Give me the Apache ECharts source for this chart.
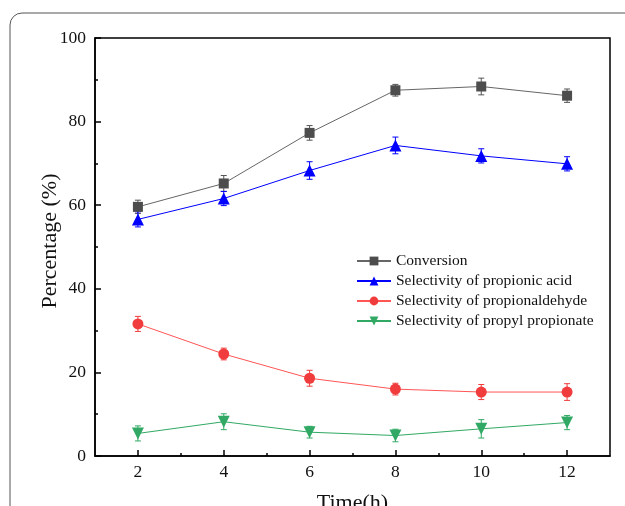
<!DOCTYPE html>
<html><head><meta charset="utf-8">
<script src="https://cdn.jsdelivr.net/npm/echarts@6/dist/echarts.min.js"></script>
<style>html,body{margin:0;padding:0;background:#fff}#c{width:625px;height:506px}</style>
</head><body><div id="c"></div>
<script>
const time = [2, 4, 6, 8, 10, 12];
const conversion = [59.6, 65.2, 77.3, 87.5, 88.4, 86.2];
const conversionErr = [1.6, 1.9, 1.75, 1.4, 2.0, 1.6];
const propionicAcid = [56.6, 61.6, 68.3, 74.3, 71.8, 69.9];
const propionicAcidErr = [1.8, 1.7, 2.1, 2.0, 1.7, 1.7];
const propionaldehyde = [31.6, 24.4, 18.6, 16.0, 15.3, 15.3];
const propionaldehydeErr = [1.8, 1.4, 1.9, 1.4, 1.8, 2.0];
const propylPropionate = [5.4, 8.2, 5.7, 4.9, 6.5, 8.0];
const propylPropionateErr = [1.8, 1.9, 1.4, 1.5, 2.2, 1.7];
const xMajorTicks = [2, 4, 6, 8, 10, 12];
const xMinorTicks = [3, 5, 7, 9, 11];
const seriesNames = ['Conversion', 'Selectivity of propionic acid', 'Selectivity of propionaldehyde', 'Selectivity of propyl propionate'];
const yTitle = 'Percentage (%)';
const xTitle = 'Time(h)';

const FONT = 'Liberation Serif';
const chart = echarts.init(document.getElementById('c'));

function lineSeries(name, vals, color, lineColor, symbol, size, rotate) {
  return {
    name, type: 'line', xAxisIndex: 0, yAxisIndex: 0,
    data: time.map((t, i) => [t, vals[i]]),
    symbol, symbolSize: size, symbolRotate: rotate || 0,
    itemStyle: { color }, lineStyle: { color: lineColor, width: 1 },
    z: 3
  };
}
function errSeries(vals, errs, color) {
  return {
    type: 'custom', xAxisIndex: 0, yAxisIndex: 0, z: 2, silent: true,
    data: time.map((t, i) => [t, vals[i] - errs[i], vals[i] + errs[i]]),
    renderItem: function (params, api) {
      const lo = api.coord([api.value(0), api.value(1)]);
      const hi = api.coord([api.value(0), api.value(2)]);
      const w = 3;
      const st = { stroke: color, lineWidth: 1 };
      return { type: 'group', children: [
        { type: 'line', shape: { x1: lo[0], y1: lo[1], x2: hi[0], y2: hi[1] }, style: st },
        { type: 'line', shape: { x1: lo[0] - w, y1: lo[1], x2: lo[0] + w, y2: lo[1] }, style: st },
        { type: 'line', shape: { x1: hi[0] - w, y1: hi[1], x2: hi[0] + w, y2: hi[1] }, style: st }
      ]};
    }
  };
}

const cGray = '#4d4d4d', cBlue = '#0000ff', cRed = '#f03c3c', cGreen = '#31a964';

chart.setOption({
  animation: false,
  backgroundColor: '#fff',
  graphic: [
    { type: 'rect', shape: { x: 10, y: 13, width: 700, height: 600, r: 12 },
      style: { fill: 'none', stroke: '#555', lineWidth: 1 }, z: -10 },
    { type: 'text', x: 50, y: 241, rotation: Math.PI / 2,
      style: { text: yTitle, font: '22px "Liberation Serif"', fill: '#111', align: 'center', verticalAlign: 'middle' } }
  ],
  grid: { left: 95, right: 15, top: 38, bottom: 50, outerBoundsMode: 'none', containLabel: false,
    show: true, borderColor: '#000', borderWidth: 1.5, backgroundColor: 'transparent' },
  legend: {
    orient: 'vertical', left: 351, top: 248, itemGap: 4, itemWidth: 34, itemHeight: 11,
    textStyle: { fontFamily: FONT, fontSize: 15.5, color: '#111' },
    data: seriesNames
  },
  xAxis: [{
    type: 'value', min: 1, max: 13, interval: 1,
    name: xTitle, nameLocation: 'middle', nameGap: 36, nameMoveOverlap: false,
    nameTextStyle: { fontFamily: FONT, fontSize: 22, color: '#111' },
    axisLine: { show: true, onZero: false, lineStyle: { color: '#000', width: 1.5 } },
    axisTick: { show: true, inside: true, length: 6, customValues: xMajorTicks, lineStyle: { color: '#000', width: 1.5 } },
    axisLabel: { customValues: xMajorTicks, fontFamily: FONT, fontSize: 17.5, color: '#111', margin: 7 },
    splitLine: { show: false }
  }, {
    type: 'value', min: 1, max: 13, interval: 1, position: 'bottom',
    axisLine: { show: false },
    axisTick: { show: true, inside: true, length: 3, customValues: xMinorTicks, lineStyle: { color: '#000', width: 1.5 } },
    axisLabel: { show: false }, splitLine: { show: false }
  }],
  yAxis: [{
    type: 'value', min: 0, max: 100, interval: 20,
    axisLine: { show: true, lineStyle: { color: '#000', width: 1.5 } },
    axisTick: { show: true, inside: true, length: 6, lineStyle: { color: '#000', width: 1.5 } },
    minorTick: { show: true, splitNumber: 2, length: 3, lineStyle: { color: '#000', width: 1.5 } },
    axisLabel: { fontFamily: FONT, fontSize: 17.5, color: '#111', margin: 9 },
    splitLine: { show: false }
  }],
  series: [
    errSeries(conversion, conversionErr, '#555'),
    errSeries(propionicAcid, propionicAcidErr, cBlue),
    errSeries(propionaldehyde, propionaldehydeErr, cRed),
    errSeries(propylPropionate, propylPropionateErr, cGreen),
    lineSeries(seriesNames[0], conversion, cGray, '#666', 'rect', 10),
    lineSeries(seriesNames[1], propionicAcid, cBlue, cBlue, 'triangle', 12),
    lineSeries(seriesNames[2], propionaldehyde, cRed, '#f55', 'circle', 11),
    lineSeries(seriesNames[3], propylPropionate, cGreen, cGreen, 'triangle', 12, 180)
  ]
});
</script></body></html>
